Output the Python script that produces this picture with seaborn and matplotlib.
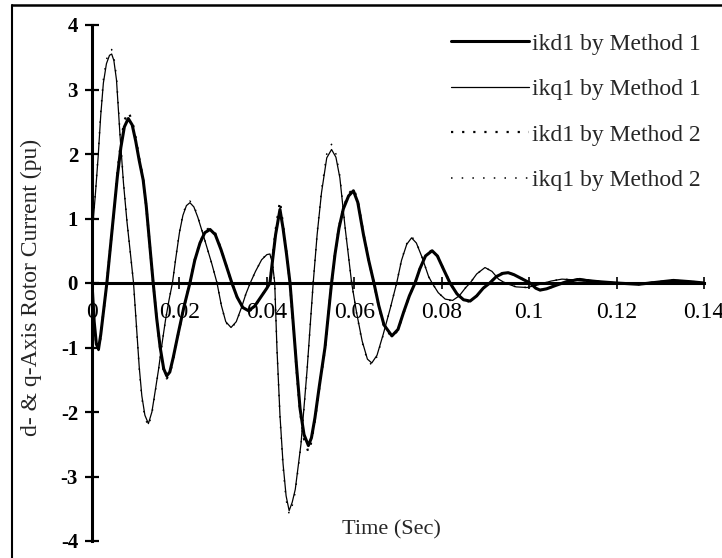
import matplotlib
matplotlib.use("Agg")
import matplotlib.pyplot as plt
from matplotlib.lines import Line2D
import seaborn as sns
import pandas as pd

# ---------------- data ----------------
t_kd1 = [0.0, 0.0005, 0.0010, 0.0015, 0.0020, 0.0027, 0.0034, 0.0042, 0.0050, 0.0058,
         0.0066, 0.0074, 0.0083, 0.0092, 0.0100, 0.0108, 0.0117, 0.0124, 0.0132, 0.0140,
         0.0148, 0.0156, 0.0164, 0.0171, 0.0178, 0.0186, 0.0197, 0.0210, 0.0224, 0.0235,
         0.0247, 0.0258, 0.0270, 0.0282, 0.0295, 0.0308, 0.0320, 0.0332, 0.0345, 0.0358,
         0.0372, 0.0388, 0.0400, 0.0407, 0.0413, 0.0420, 0.0430, 0.0437, 0.0445, 0.0453,
         0.0460, 0.0468, 0.0476, 0.0485, 0.0495, 0.0502, 0.0510, 0.0520, 0.0533, 0.0548,
         0.0556, 0.0565, 0.0575, 0.0587, 0.0598, 0.0608, 0.0621, 0.0633, 0.0645, 0.0656,
         0.0668, 0.0686, 0.0700, 0.0713, 0.0726, 0.0739, 0.0750, 0.0763, 0.0778, 0.0790,
         0.0805, 0.0819, 0.0835, 0.0850, 0.0865, 0.0880, 0.0895, 0.0910, 0.0925, 0.0940,
         0.0952, 0.0965, 0.0985, 0.1002, 0.1015, 0.1025, 0.1040, 0.1060, 0.1085, 0.1110,
         0.1130, 0.1160, 0.1200, 0.1250, 0.1290, 0.1330, 0.1370, 0.1400]
ikd1_m1 = [0.0, -0.6, -0.95, -1.02, -0.8, -0.4, 0.0, 0.55, 1.1, 1.65,
           2.1, 2.42, 2.55, 2.45, 2.2, 1.9, 1.6, 1.2, 0.6, 0.0,
           -0.55, -1.0, -1.33, -1.44, -1.38, -1.15, -0.79, -0.38, 0.0, 0.35,
           0.62, 0.78, 0.83, 0.75, 0.52, 0.25, 0.0, -0.22, -0.38, -0.43,
           -0.36, -0.2, -0.08, 0.0, 0.35, 0.75, 1.14, 0.85, 0.45, 0.0,
           -0.6, -1.3, -1.95, -2.35, -2.52, -2.4, -2.09, -1.6, -1.0, 0.0,
           0.45, 0.85, 1.15, 1.35, 1.43, 1.25, 0.75, 0.35, 0.0, -0.35,
           -0.65, -0.82, -0.72, -0.45, -0.2, 0.0, 0.22, 0.42, 0.5, 0.42,
           0.2, 0.0, -0.17, -0.26, -0.28, -0.2, -0.08, 0.0, 0.1, 0.15,
           0.16, 0.13, 0.06, 0.0, -0.08, -0.11, -0.09, -0.04, 0.02, 0.05,
           0.04, 0.02, 0.0, -0.02, 0.01, 0.04, 0.02, 0.0]
ikd1_m2 = [0.0, -0.6, -0.97, -1.04, -0.82, -0.4, 0.0, 0.56, 1.12, 1.7,
           2.18, 2.52, 2.65, 2.52, 2.25, 1.93, 1.62, 1.2, 0.6, 0.0,
           -0.56, -1.02, -1.36, -1.48, -1.41, -1.17, -0.8, -0.38, 0.0, 0.36,
           0.63, 0.8, 0.86, 0.77, 0.53, 0.25, 0.0, -0.22, -0.39, -0.45,
           -0.37, -0.2, -0.08, 0.0, 0.38, 0.82, 1.27, 0.9, 0.46, 0.0,
           -0.62, -1.34, -2.0, -2.42, -2.62, -2.46, -2.12, -1.62, -1.02, 0.0,
           0.46, 0.87, 1.17, 1.38, 1.47, 1.28, 0.76, 0.35, 0.0, -0.36,
           -0.67, -0.84, -0.73, -0.46, -0.2, 0.0, 0.23, 0.43, 0.51, 0.43,
           0.2, 0.0, -0.17, -0.27, -0.29, -0.2, -0.08, 0.0, 0.1, 0.16,
           0.16, 0.13, 0.06, 0.0, -0.08, -0.11, -0.09, -0.04, 0.02, 0.05,
           0.04, 0.02, 0.0, -0.02, 0.01, 0.04, 0.02, 0.0]

t_kq1 = [0.0, 0.0002, 0.0008, 0.0014, 0.0020, 0.0026, 0.0033, 0.0040, 0.0045, 0.0050,
         0.0056, 0.0064, 0.0072, 0.0080, 0.0088, 0.0095, 0.0102, 0.0108, 0.0114, 0.0121,
         0.0129, 0.0137, 0.0144, 0.0152, 0.0160, 0.0168, 0.0176, 0.0184, 0.0192, 0.0200,
         0.0208, 0.0216, 0.0224, 0.0233, 0.0242, 0.0252, 0.0263, 0.0274, 0.0286, 0.0296,
         0.0306, 0.0318, 0.0330, 0.0342, 0.0352, 0.0362, 0.0374, 0.0388, 0.0400, 0.0407,
         0.0413, 0.0418, 0.0423, 0.0430, 0.0437, 0.0444, 0.0451, 0.0458, 0.0465, 0.0478,
         0.0492, 0.0506, 0.0515, 0.0525, 0.0537, 0.0548, 0.0558, 0.0567, 0.0579, 0.0594,
         0.0605, 0.0618, 0.0630, 0.0640, 0.0652, 0.0666, 0.0682, 0.0697, 0.0708, 0.0720,
         0.0731, 0.0742, 0.0755, 0.0770, 0.0778, 0.0792, 0.0808, 0.0825, 0.0840, 0.0855,
         0.0865, 0.0880, 0.0899, 0.0915, 0.0930, 0.0945, 0.0970, 0.0995, 0.1020, 0.1050,
         0.1075, 0.1100, 0.1116, 0.1140, 0.1180, 0.1220, 0.1260, 0.1300, 0.1340, 0.1380,
         0.1400]
ikq1_m1 = [0.0, 0.9, 1.4, 1.95, 2.6, 3.1, 3.4, 3.53, 3.55, 3.45,
           3.15, 2.3, 1.55, 0.95, 0.45, 0.0, -0.7, -1.3, -1.75, -2.05,
           -2.18, -2.0, -1.7, -1.35, -0.95, -0.58, -0.27, 0.0, 0.4, 0.78,
           1.05, 1.2, 1.245, 1.18, 1.02, 0.8, 0.55, 0.3, 0.0, -0.35,
           -0.6, -0.69, -0.6, -0.38, -0.17, 0.0, 0.18, 0.36, 0.44, 0.45,
           0.3, 0.0, -1.0, -2.05, -2.8, -3.3, -3.53, -3.4, -3.2, -2.5,
           -1.35, 0.0, 0.75, 1.4, 1.94, 2.07, 1.95, 1.63, 0.86, 0.0,
           -0.45, -0.9, -1.18, -1.24, -1.12, -0.8, -0.4, 0.0, 0.35, 0.6,
           0.7, 0.62, 0.4, 0.1, 0.0, -0.15, -0.25, -0.27, -0.2, -0.07,
           0.0, 0.14, 0.24, 0.18, 0.06, 0.0, -0.06, -0.07, -0.03, 0.03,
           0.06, 0.05, 0.07, 0.04, 0.01, 0.0, 0.0, 0.02, 0.04, 0.01,
           0.0]
ikq1_m2 = [0.0, 0.9, 1.42, 1.98, 2.65, 3.15, 3.46, 3.6, 3.62, 3.5,
           3.2, 2.33, 1.57, 0.96, 0.45, 0.0, -0.71, -1.32, -1.78, -2.09,
           -2.22, -2.03, -1.72, -1.36, -0.96, -0.58, -0.27, 0.0, 0.41, 0.79,
           1.07, 1.22, 1.27, 1.2, 1.03, 0.81, 0.55, 0.3, 0.0, -0.35,
           -0.61, -0.7, -0.61, -0.38, -0.17, 0.0, 0.18, 0.36, 0.45, 0.46,
           0.3, 0.0, -1.0, -2.08, -2.85, -3.36, -3.58, -3.45, -3.24, -2.52,
           -1.36, 0.0, 0.77, 1.44, 2.0, 2.15, 2.0, 1.66, 0.87, 0.0,
           -0.46, -0.92, -1.2, -1.27, -1.14, -0.81, -0.4, 0.0, 0.36, 0.61,
           0.72, 0.63, 0.4, 0.1, 0.0, -0.15, -0.25, -0.28, -0.2, -0.07,
           0.0, 0.14, 0.24, 0.18, 0.06, 0.0, -0.06, -0.07, -0.03, 0.03,
           0.06, 0.05, 0.07, 0.04, 0.01, 0.0, 0.0, 0.02, 0.04, 0.01,
           0.0]

series_labels = ["ikd1 by Method 1", "ikq1 by Method 1",
                 "ikd1 by Method 2", "ikq1 by Method 2"]
x_ticks = [0.0, 0.02, 0.04, 0.06, 0.08, 0.10, 0.12, 0.14]
x_tick_labels = ["0", "0.02", "0.04", "0.06", "0.08", "0.1", "0.12", "0.14"]
y_ticks = [4, 3, 2, 1, 0, -1, -2, -3, -4]
y_tick_labels = ["4", "3", "2", "1", "0", "-1", "-2", "-3", "-4"]

# ---------------- plotting ----------------
sns.set_style("white")
plt.rcParams["font.family"] = ["Liberation Serif", "DejaVu Serif"]

W, H = 722, 558
fig = plt.figure(figsize=(W / 100, H / 100), dpi=100)
ax = fig.add_axes([92 / W, 17 / H, 612 / W, 516 / H])

df_d1 = pd.DataFrame({"t": t_kd1, "v": ikd1_m1})
df_q1 = pd.DataFrame({"t": t_kq1, "v": ikq1_m1})
df_d2 = pd.DataFrame({"t": t_kd1, "v": ikd1_m2})
df_q2 = pd.DataFrame({"t": t_kq1, "v": ikq1_m2})

sns.lineplot(data=df_q1, x="t", y="v", ax=ax, color="black", linewidth=0.9,
             estimator=None, label=series_labels[1])
sns.lineplot(data=df_d1, x="t", y="v", ax=ax, color="black", linewidth=2.2,
             estimator=None, label=series_labels[0])
sns.lineplot(data=df_d2, x="t", y="v", ax=ax, color="black", linewidth=1.6,
             linestyle=(0, (1, 4)), estimator=None, label=series_labels[2])
sns.lineplot(data=df_q2, x="t", y="v", ax=ax, color="black", linewidth=1.1,
             linestyle=(0, (1, 6)), estimator=None, label=series_labels[3])

ax.set_xlim(0, 0.14)
ax.set_ylim(-4, 4)
ax.set_facecolor("white")
for s in ["top", "right"]:
    ax.spines[s].set_visible(False)
ax.spines["bottom"].set_position(("data", 0))
ax.spines["bottom"].set_linewidth(2.2)
ax.spines["left"].set_linewidth(2.2)
ax.spines["bottom"].set_color("black")
ax.spines["left"].set_color("black")

ax.set_xticks(x_ticks)
ax.set_xticklabels(x_tick_labels, fontsize=17)
ax.set_yticks(y_ticks)
ax.set_yticklabels(y_tick_labels, fontsize=15, fontweight="bold")
ax.tick_params(axis="y", left=True, direction="inout", length=10, width=1.6,
               pad=5, colors="black")
ax.tick_params(axis="x", bottom=True, direction="inout", length=9, width=1.2,
               pad=9, colors="black")

ax.set_xlabel("Time (Sec)", fontsize=16)
ax.xaxis.set_label_coords(0.49, 0.04)
ax.set_ylabel("d- & q-Axis Rotor Current (pu)", fontsize=17)
ax.yaxis.set_label_coords(-0.082, 0.492)

# legend in the reference order
handles, labels = ax.get_legend_handles_labels()
hmap = dict(zip(labels, handles))
leg = ax.legend([hmap[l] for l in series_labels], series_labels,
                loc="upper left", bbox_to_anchor=((451 - 92) / 612, (541 - 33) / 516),
                frameon=False, fontsize=17, handlelength=3.3, handletextpad=0.12,
                labelspacing=1.02, borderpad=0, borderaxespad=0)

# outer frame (left and top edges visible in the reference)
fig.add_artist(Line2D([12 / W, 12 / W], [0, 1 - 5 / H], transform=fig.transFigure,
                      color="black", linewidth=1.5))
fig.add_artist(Line2D([12 / W, 1], [1 - 5 / H, 1 - 5 / H], transform=fig.transFigure,
                      color="black", linewidth=1.8))

fig.savefig("out.png", dpi=100, facecolor="white")
